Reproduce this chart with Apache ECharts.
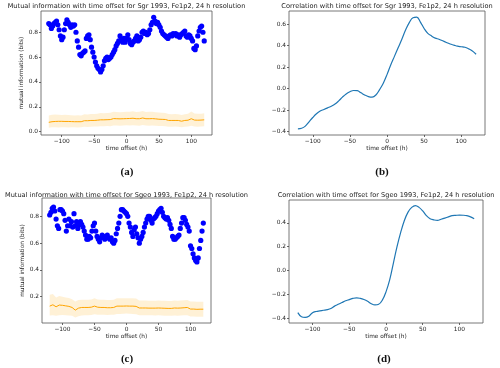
<!DOCTYPE html>
<html><head><meta charset="utf-8">
<script src="https://cdn.jsdelivr.net/npm/echarts@6/dist/echarts.min.js"></script>
<style>html,body{margin:0;padding:0;background:#fff}#c{width:500px;height:368px}</style>
</head><body><div id="c"></div>
<script>
function range(a, b, s) { const r = []; for (let v = a; v <= b + 1e-9; v += s) r.push(v); return r; }

// x offsets (h)
const xScatter = range(-120, 120, 2);
const xLine = range(-120, 120, 5);

// Panel (a): Sgr mutual information (bits)
const miSgr = [0.87,0.86,0.83,0.85,0.87,0.88,0.89,0.86,0.82,0.77,0.74,0.76,0.82,0.87,0.90,0.88,0.86,0.84,0.86,0.85,0.86,0.80,0.73,0.68,0.62,0.61,0.63,0.64,0.65,0.75,0.77,0.78,0.74,0.68,0.64,0.60,0.56,0.53,0.51,0.50,0.48,0.50,0.53,0.57,0.59,0.60,0.58,0.59,0.60,0.62,0.64,0.66,0.69,0.71,0.73,0.77,0.74,0.72,0.75,0.72,0.75,0.78,0.74,0.71,0.70,0.72,0.73,0.75,0.77,0.73,0.74,0.76,0.80,0.81,0.79,0.80,0.78,0.79,0.82,0.86,0.88,0.92,0.89,0.87,0.88,0.86,0.84,0.81,0.79,0.78,0.77,0.76,0.75,0.77,0.78,0.77,0.79,0.78,0.79,0.77,0.78,0.76,0.78,0.79,0.80,0.81,0.77,0.76,0.78,0.77,0.75,0.73,0.67,0.66,0.69,0.77,0.81,0.84,0.85,0.80,0.73];
const shufSgrMean = [0.075,0.080,0.082,0.083,0.083,0.082,0.082,0.081,0.080,0.080,0.080,0.088,0.088,0.090,0.090,0.092,0.095,0.095,0.096,0.097,0.105,0.104,0.103,0.104,0.105,0.106,0.108,0.104,0.104,0.110,0.104,0.104,0.105,0.103,0.100,0.099,0.098,0.090,0.090,0.090,0.090,0.084,0.090,0.092,0.104,0.093,0.092,0.093,0.095];
const shufSgrLo = [0.032,0.035,0.036,0.034,0.036,0.035,0.034,0.036,0.035,0.034,0.035,0.040,0.038,0.040,0.041,0.042,0.044,0.043,0.045,0.044,0.050,0.049,0.048,0.050,0.051,0.050,0.052,0.049,0.048,0.053,0.049,0.048,0.050,0.048,0.046,0.045,0.044,0.040,0.040,0.041,0.040,0.036,0.040,0.041,0.048,0.042,0.040,0.041,0.043];
const shufSgrHi = [0.130,0.135,0.138,0.136,0.134,0.135,0.133,0.132,0.130,0.131,0.130,0.140,0.138,0.142,0.143,0.145,0.150,0.148,0.150,0.152,0.160,0.158,0.156,0.158,0.160,0.161,0.165,0.158,0.160,0.166,0.158,0.160,0.160,0.157,0.154,0.152,0.150,0.142,0.141,0.143,0.140,0.134,0.140,0.145,0.162,0.146,0.144,0.145,0.148];

// Panel (b): Sgr correlation
const corrSgr = [-0.375,-0.37,-0.35,-0.31,-0.27,-0.235,-0.21,-0.195,-0.18,-0.165,-0.145,-0.115,-0.08,-0.05,-0.03,-0.018,-0.02,-0.04,-0.06,-0.075,-0.08,-0.06,-0.01,0.05,0.13,0.22,0.30,0.38,0.46,0.545,0.615,0.66,0.665,0.62,0.56,0.515,0.49,0.47,0.46,0.445,0.43,0.415,0.405,0.395,0.39,0.385,0.37,0.35,0.32];

// Panel (c): Sgeo mutual information (bits)
const miSgeo = [0.81,0.83,0.86,0.87,0.84,0.78,0.73,0.71,0.85,0.85,0.84,0.82,0.77,0.69,0.73,0.78,0.73,0.76,0.72,0.82,0.73,0.76,0.71,0.74,0.76,0.74,0.72,0.69,0.66,0.63,0.63,0.65,0.64,0.69,0.73,0.75,0.69,0.65,0.63,0.61,0.64,0.66,0.65,0.63,0.64,0.66,0.64,0.63,0.64,0.61,0.60,0.62,0.67,0.71,0.75,0.80,0.85,0.85,0.84,0.83,0.82,0.80,0.75,0.72,0.68,0.65,0.70,0.72,0.67,0.64,0.60,0.63,0.65,0.68,0.72,0.75,0.78,0.80,0.80,0.77,0.75,0.78,0.79,0.80,0.82,0.84,0.85,0.86,0.83,0.80,0.79,0.78,0.79,0.77,0.74,0.71,0.65,0.63,0.63,0.64,0.65,0.66,0.71,0.75,0.79,0.79,0.77,0.74,0.72,0.69,0.58,0.56,0.52,0.49,0.47,0.46,0.49,0.56,0.62,0.69,0.75];
const shufSgeoMean = [0.130,0.140,0.125,0.138,0.136,0.132,0.128,0.120,0.100,0.115,0.120,0.120,0.120,0.122,0.130,0.122,0.120,0.120,0.118,0.118,0.120,0.130,0.130,0.130,0.131,0.130,0.130,0.128,0.116,0.116,0.116,0.115,0.115,0.115,0.116,0.115,0.114,0.113,0.113,0.116,0.115,0.116,0.118,0.120,0.108,0.108,0.106,0.107,0.107];
const shufSgeoLo = [0.060,0.062,0.058,0.062,0.064,0.062,0.060,0.058,0.045,0.055,0.060,0.062,0.062,0.064,0.070,0.066,0.065,0.065,0.064,0.065,0.066,0.072,0.072,0.073,0.074,0.073,0.072,0.070,0.062,0.062,0.062,0.061,0.061,0.060,0.061,0.060,0.059,0.058,0.058,0.060,0.059,0.060,0.061,0.062,0.052,0.052,0.050,0.051,0.051];
const shufSgeoHi = [0.215,0.220,0.195,0.205,0.200,0.195,0.190,0.182,0.165,0.175,0.178,0.178,0.178,0.180,0.188,0.180,0.178,0.178,0.175,0.175,0.178,0.188,0.188,0.188,0.189,0.188,0.188,0.186,0.172,0.172,0.172,0.170,0.170,0.170,0.172,0.170,0.170,0.168,0.168,0.172,0.170,0.172,0.174,0.176,0.165,0.164,0.162,0.163,0.163];

// Panel (d): Sgeo correlation
const corrSgeo = [-0.355,-0.39,-0.395,-0.385,-0.355,-0.345,-0.34,-0.335,-0.33,-0.32,-0.30,-0.285,-0.27,-0.255,-0.245,-0.235,-0.23,-0.235,-0.245,-0.26,-0.28,-0.29,-0.285,-0.25,-0.18,-0.08,0.06,0.20,0.32,0.42,0.49,0.53,0.545,0.53,0.50,0.46,0.435,0.425,0.42,0.43,0.44,0.45,0.46,0.463,0.465,0.464,0.46,0.45,0.435];

// Tick labels
const xTicks = [-100, -50, 0, 50, 100];
const yTicksA = [0.0, 0.2, 0.4, 0.6, 0.8];
const yTicksB = [-0.4, -0.2, 0.0, 0.2, 0.4, 0.6];
const yTicksC = [0.2, 0.4, 0.6, 0.8];
const yTicksD = [-0.4, -0.2, 0.0, 0.2, 0.4];

const titles = [
  'Mutual information with time offset for Sgr 1993, Fe1p2, 24 h resolution',
  'Correlation with time offset for Sgr 1993, Fe1p2, 24 h resolution',
  'Mutual information with time offset for Sgeo 1993, Fe1p2, 24 h resolution',
  'Correlation with time offset for Sgeo 1993, Fe1p2, 24 h resolution'
];
const panelLabels = ['(a)', '(b)', '(c)', '(d)'];

const FONT = 'DejaVu Sans';
const TXT = '#222';
const fmtNum = (v, d) => { const s = Math.abs(v).toFixed(d); return (v < -1e-9 ? '\u2212' : '') + s; };

const grids = [
  { left: 41, top: 11, width: 171, height: 124 },
  { left: 289, top: 11, width: 196, height: 124 },
  { left: 42, top: 198, width: 169, height: 125 },
  { left: 289, top: 200, width: 194, height: 123 }
];
const yLims = [[-0.027, 0.971], [-0.433, 0.723], [0.004, 0.937], [-0.442, 0.592]];
const yTicks = [yTicksA, yTicksB, yTicksC, yTicksD];

const xAxes = grids.map((g, i) => ({
  type: 'value', gridIndex: i, min: -132, max: 132,
  name: 'time offset (h)', nameLocation: 'middle', nameGap: 10,
  nameTextStyle: { fontFamily: FONT, fontSize: 5.8, color: TXT },
  axisLine: { show: false, onZero: false }, splitLine: { show: false },
  axisTick: { show: true, inside: false, length: 2, lineStyle: { color: '#444', width: 0.8 }, customValues: xTicks },
  axisLabel: { fontFamily: FONT, fontSize: 5.9, color: TXT, margin: 3, customValues: xTicks, formatter: v => fmtNum(v, 0) }
}));
const yAxes = grids.map((g, i) => ({
  type: 'value', gridIndex: i, min: yLims[i][0], max: yLims[i][1],
  name: (i % 2 === 0) ? 'mutual information (bits)' : '', nameLocation: 'middle', nameGap: 16,
  nameTextStyle: { fontFamily: FONT, fontSize: 5.8, color: TXT },
  axisLine: { show: false, onZero: false }, splitLine: { show: false },
  axisTick: { show: true, inside: false, length: 2, lineStyle: { color: '#444', width: 0.8 }, customValues: yTicks[i] },
  axisLabel: { fontFamily: FONT, fontSize: 5.9, color: TXT, margin: 3, customValues: yTicks[i], formatter: v => fmtNum(v, 1) }
}));

function pairs(xs, ys) { return xs.map((x, k) => [x, ys[k]]); }
function band(gi, lo, hi) {
  return { type: 'custom', coordinateSystem: 'cartesian2d', xAxisIndex: gi, yAxisIndex: gi, silent: true, z: 1,
    data: pairs(xLine, lo),
    renderItem: function (params, api) {
      if (params.dataIndex !== 0) return null;
      const pts = [];
      for (let k = 0; k < xLine.length; k++) pts.push(api.coord([xLine[k], hi[k]]));
      for (let k = xLine.length - 1; k >= 0; k--) pts.push(api.coord([xLine[k], lo[k]]));
      return { type: 'polygon', shape: { points: pts }, style: { fill: 'rgba(255,165,0,0.16)', stroke: 'none' } };
    }
  };
}
function meanLine(gi, ys) {
  return { type: 'line', xAxisIndex: gi, yAxisIndex: gi, symbol: 'none', silent: true,
    lineStyle: { color: '#ffa500', width: 1 }, data: pairs(xLine, ys), z: 2 };
}
function dots(gi, ys) {
  return { type: 'scatter', xAxisIndex: gi, yAxisIndex: gi, symbolSize: 5.2, silent: true,
    itemStyle: { color: '#0000ff', opacity: 1 }, data: pairs(xScatter, ys), z: 3 };
}
function curve(gi, ys) {
  return { type: 'line', xAxisIndex: gi, yAxisIndex: gi, symbol: 'none', smooth: 0.4, silent: true,
    lineStyle: { color: '#1f77b4', width: 1.2 }, data: pairs(xLine, ys), z: 3 };
}

const series = [
  band(0, shufSgrLo, shufSgrHi), meanLine(0, shufSgrMean), dots(0, miSgr),
  curve(1, corrSgr),
  band(2, shufSgeoLo, shufSgeoHi), meanLine(2, shufSgeoMean), dots(2, miSgeo),
  curve(3, corrSgeo)
];

const titlePos = [[126.5, 6], [387, 6], [126.5, 195], [386, 195]];
const labelPos = [[127, 172], [382, 172], [127, 359], [384, 359]];
const graphics = [];
titles.forEach((t, i) => graphics.push({ type: 'text', x: titlePos[i][0], y: titlePos[i][1], z: 10,
  style: { text: t, fontFamily: FONT, fontSize: 6.6, fill: TXT, align: 'center', verticalAlign: 'middle' } }));
panelLabels.forEach((t, i) => graphics.push({ type: 'text', x: labelPos[i][0], y: labelPos[i][1], z: 10,
  style: { text: t, fontFamily: 'Liberation Serif', fontWeight: 'bold', fontSize: 11, fill: '#111', align: 'center', verticalAlign: 'middle' } }));

const chart = echarts.init(document.getElementById('c'), null, { renderer: 'canvas' });
chart.setOption({
  animation: false,
  backgroundColor: '#fff',
  grid: grids.map(g => Object.assign({ show: true, borderColor: '#555', borderWidth: 0.8, backgroundColor: 'transparent' }, g)),
  xAxis: xAxes, yAxis: yAxes, series: series, graphic: graphics
});
</script></body></html>
